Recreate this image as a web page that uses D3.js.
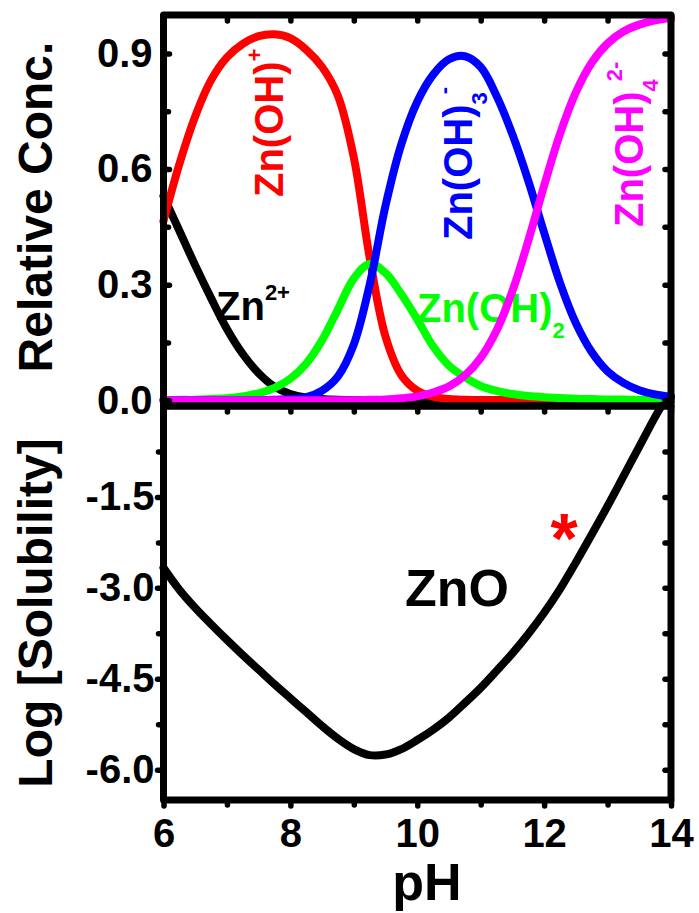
<!DOCTYPE html>
<html>
<head>
<meta charset="utf-8">
<script src="https://cdn.jsdelivr.net/npm/d3@7"></script>
<style>
  body { margin: 0; background: #fff; }
  text { font-family: "Liberation Sans", Arial, Helvetica, sans-serif; font-weight: bold; }
</style>
</head>
<body>
<svg id="chart" width="699" height="913"></svg>
<script>
// pH grid shared by the speciation curves
const pH = [6, 6.25, 6.5, 6.75, 7, 7.25, 7.5, 7.75, 8, 8.25, 8.5, 8.75, 9, 9.25, 9.5, 9.75,
            10, 10.25, 10.5, 10.75, 11, 11.25, 11.5, 11.75, 12, 12.25, 12.5, 12.75, 13, 13.25, 13.5, 13.75, 14];

// relative concentration of each zinc species
const zn2   = [0.530, 0.440, 0.350, 0.265, 0.185, 0.120, 0.070, 0.035, 0.016, 0.007, 0.003, 0.001, 0, 0, 0, 0,
               0, 0, 0, 0, 0, 0, 0, 0, 0, 0, 0, 0, 0, 0, 0, 0, 0];
const znOH  = [0.465, 0.613, 0.737, 0.831, 0.890, 0.925, 0.945, 0.950, 0.940, 0.910, 0.865, 0.790, 0.630, 0.370, 0.165, 0.065,
               0.025, 0.009, 0.003, 0.001, 0, 0, 0, 0, 0, 0, 0, 0, 0, 0, 0, 0, 0];
const znOH2 = [0, 0.001, 0.001, 0.003, 0.005, 0.010, 0.018, 0.032, 0.056, 0.095, 0.156, 0.236, 0.316, 0.354, 0.330, 0.275,
               0.210, 0.140, 0.090, 0.060, 0.037, 0.024, 0.016, 0.011, 0.008, 0.006, 0.004, 0.003, 0.002, 0.002, 0.001, 0.001, 0.001];
const znOH3 = [0, 0, 0, 0, 0, 0, 0, 0.001, 0.003, 0.008, 0.025, 0.062, 0.145, 0.300, 0.505, 0.665,
               0.775, 0.845, 0.885, 0.893, 0.865, 0.790, 0.690, 0.570, 0.435, 0.305, 0.200, 0.125, 0.075, 0.045, 0.026, 0.015, 0.009];
const znOH4 = [0, 0, 0, 0, 0, 0, 0, 0, 0, 0, 0, 0, 0, 0.001, 0.002, 0.005,
               0.010, 0.020, 0.036, 0.064, 0.110, 0.181, 0.283, 0.414, 0.557, 0.691, 0.799, 0.876, 0.926, 0.957, 0.975, 0.986, 0.992];

// ZnO solubility curve
const solPH  = [6, 6.25, 6.5, 6.75, 7, 7.25, 7.5, 7.75, 8, 8.25, 8.5, 8.75, 9, 9.25, 9.5, 9.75,
                10, 10.25, 10.5, 10.75, 11, 11.25, 11.5, 11.75, 12, 12.25, 12.5, 12.75, 13, 13.25, 13.5, 13.75, 13.85];
const logSol = [-2.67, -3.03, -3.33, -3.60, -3.86, -4.11, -4.35, -4.59, -4.82, -5.05, -5.28, -5.49, -5.66, -5.76, -5.75, -5.66,
                -5.51, -5.34, -5.14, -4.90, -4.65, -4.37, -4.08, -3.76, -3.41, -3.02, -2.58, -2.12, -1.65, -1.16, -0.67, -0.18, 0];

// axis ticks
const xTicks = [6, 8, 10, 12, 14];
const xMinor = [7, 9, 11, 13];
const concTicks = [0, 0.3, 0.6, 0.9];
const concMinor = [0.15, 0.45, 0.75];
const solTicks = [-1.5, -3.0, -4.5, -6.0];
const solMinor = [-0.75, -2.25, -3.75, -5.25];

const species = [
  { name: "Zn2+",      values: zn2,   color: "#000000" },
  { name: "Zn(OH)+",   values: znOH,  color: "#ff0000" },
  { name: "Zn(OH)2",   values: znOH2, color: "#00ff00" },
  { name: "Zn(OH)3-",  values: znOH3, color: "#0000ff" },
  { name: "Zn(OH)42-", values: znOH4, color: "#ff00ff" }
];

const svg = d3.select("#chart");
const L = 163.5, R = 671, T = 15, MID = 406, B = 800;

const x = d3.scaleLinear().domain([6, 14]).range([L, R]);
const yTop = d3.scaleLinear().domain([-0.015, 1]).range([MID, T]);
const yBot = d3.scaleLinear().domain([-6.5, 0]).range([B, MID]);

const font = '"Liberation Sans", Arial, Helvetica, sans-serif';
const fmt1 = d => d.toFixed(1);

function styleAxis(g) {
  g.select(".domain").remove();
  g.selectAll(".tick line").attr("stroke", "#000").attr("stroke-width", 5.5).attr("stroke-linecap", "round");
  g.selectAll(".tick text").attr("fill", "#000").style("font-family", font).style("font-weight", "bold").style("font-size", "40px");
}
function addAxis(axis, tx, ty) {
  svg.append("g").attr("transform", `translate(${tx},${ty})`).call(axis).call(styleAxis);
}
const none = () => "";

// ---- species labels (beneath the curves) ----
const labels = svg.append("g").style("font-size", "40px");

function chem(g, parts, attrs) {
  const t = g.append("text");
  Object.entries(attrs).forEach(([k, v]) => t.attr(k, v));
  parts.forEach(p => {
    const s = t.append("tspan").text(p.t);
    if (p.size) s.style("font-size", p.size + "px");
    if (p.dy) s.attr("dy", p.dy);
    if (p.dx) s.attr("dx", p.dx);
  });
  return t;
}

chem(labels, [{ t: "Zn" }, { t: "2+", size: 22, dy: -20 }],
     { x: 216, y: 320, fill: "#000" });
chem(labels, [{ t: "Zn(OH)" }, { t: "+", size: 22, dy: -21 }],
     { transform: "translate(283,197) rotate(-90)", fill: "#ff0000" });
chem(labels, [{ t: "Zn(OH)" }, { t: "2", size: 22, dy: 16 }],
     { x: 417, y: 322, fill: "#00ff00" });
chem(labels, [{ t: "Zn(OH)" }, { t: "3", size: 22, dy: 15 }, { t: "-", size: 22, dy: -36, dx: -2 }],
     { transform: "translate(472,240) rotate(-90)", fill: "#0000ff" });
chem(labels, [{ t: "Zn(OH)" }, { t: "4", size: 22, dy: 15 }, { t: "2-", size: 22, dy: -36, dx: -2 }],
     { transform: "translate(643,227) rotate(-90)", fill: "#ff00ff" });

svg.append("text").attr("x", 405).attr("y", 606).style("font-size", "52px").attr("fill", "#000").text("ZnO");
svg.append("text").attr("x", 564).attr("y", 563).attr("text-anchor", "middle")
   .style("font-size", "70px").attr("fill", "#ff0000").text("*");

// ---- curves ----
const smooth = d3.line().curve(d3.curveCatmullRom.alpha(0.5));
species.forEach(s => {
  svg.append("path")
    .attr("d", smooth(pH.map((p, i) => [x(p), yTop(s.values[i])])))
    .attr("fill", "none").attr("stroke", s.color).attr("stroke-width", 8)
    .attr("stroke-linejoin", "round").attr("stroke-linecap", "round");
});

svg.append("path")
  .attr("d", smooth(solPH.map((p, i) => [x(p), yBot(logSol[i])])))
  .attr("fill", "none").attr("stroke", "#000").attr("stroke-width", 8)
  .attr("stroke-linejoin", "round").attr("stroke-linecap", "round");

// ---- frames ----
[[T, MID], [MID, B]].forEach(([a, b]) => {
  svg.append("rect").attr("x", L).attr("y", a).attr("width", R - L).attr("height", b - a)
    .attr("fill", "none").attr("stroke", "#000").attr("stroke-width", 7).attr("stroke-linejoin", "round");
});

// ---- axes ----
// top panel
addAxis(d3.axisLeft(yTop).tickValues(concTicks).tickFormat(fmt1).tickSizeInner(-6).tickSizeOuter(0).tickPadding(11), L, 0);
addAxis(d3.axisLeft(yTop).tickValues(concMinor).tickFormat(none).tickSizeInner(-5).tickSizeOuter(0), L, 0);
addAxis(d3.axisRight(yTop).tickValues(concTicks.concat(concMinor)).tickFormat(none).tickSizeInner(-6).tickSizeOuter(0), R, 0);
addAxis(d3.axisTop(x).tickValues(xTicks.concat(xMinor)).tickFormat(none).tickSizeInner(-6).tickSizeOuter(0), 0, T);
addAxis(d3.axisBottom(x).tickValues(xTicks.concat(xMinor)).tickFormat(none).tickSizeInner(6).tickSizeOuter(0), 0, MID);
// bottom panel
addAxis(d3.axisLeft(yBot).tickValues(solTicks).tickFormat(fmt1).tickSizeInner(6).tickSizeOuter(0).tickPadding(3), L, 0);
addAxis(d3.axisLeft(yBot).tickValues(solMinor).tickFormat(none).tickSizeInner(5).tickSizeOuter(0), L, 0);
addAxis(d3.axisRight(yBot).tickValues(solTicks.concat(solMinor)).tickFormat(none).tickSizeInner(-6).tickSizeOuter(0), R, 0);
addAxis(d3.axisBottom(x).tickValues(xTicks).tickFormat(d3.format("d")).tickSizeInner(6).tickSizeOuter(0).tickPadding(13), 0, B);
addAxis(d3.axisBottom(x).tickValues(xMinor).tickFormat(none).tickSizeInner(5).tickSizeOuter(0), 0, B);

// ---- axis titles ----
svg.append("text").attr("transform", "translate(52,207) rotate(-90)").attr("text-anchor", "middle")
   .style("font-size", "48px").text("Relative Conc.");
svg.append("text").attr("transform", "translate(52,613) rotate(-90)").attr("text-anchor", "middle")
   .style("font-size", "48px").text("Log [Solubility]");
svg.append("text").attr("x", 427).attr("y", 900).attr("text-anchor", "middle")
   .style("font-size", "52px").text("pH");
</script>
</body>
</html>
